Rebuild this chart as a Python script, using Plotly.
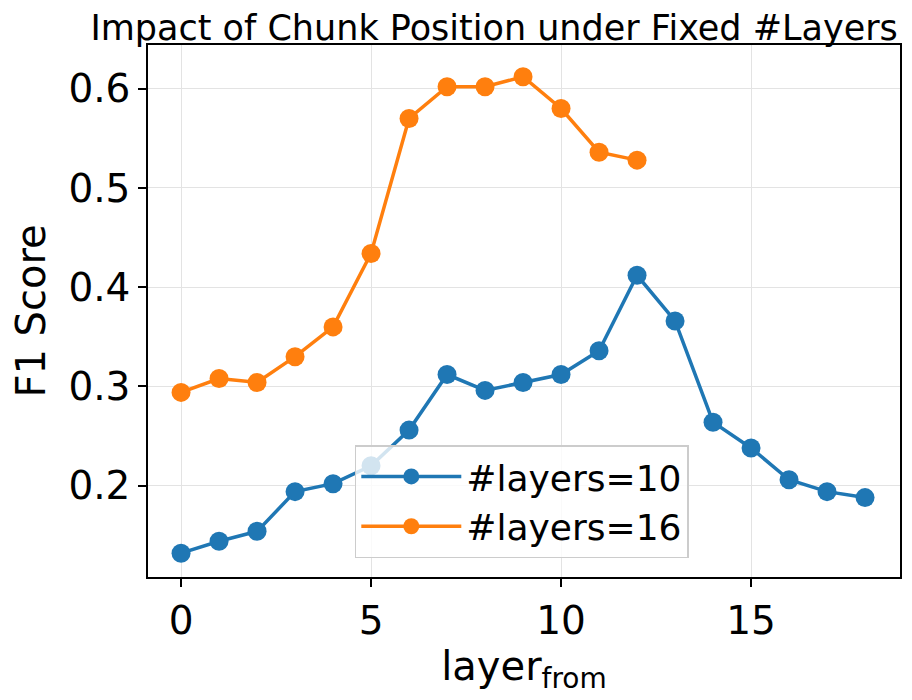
import plotly.graph_objects as go

x10 = list(range(19))
f1_10 = [0.132, 0.144, 0.154, 0.194, 0.202, 0.220, 0.256, 0.312, 0.296, 0.304,
         0.312, 0.336, 0.412, 0.366, 0.264, 0.238, 0.206, 0.194, 0.188]
x16 = list(range(13))
f1_16 = [0.294, 0.308, 0.304, 0.330, 0.360, 0.434, 0.570, 0.602, 0.602, 0.612,
         0.580, 0.536, 0.528]

x_ticks = [0, 5, 10, 15]
y_ticks = [0.2, 0.3, 0.4, 0.5, 0.6]

fig = go.Figure()
fig.add_trace(go.Scatter(x=x10, y=f1_10, mode="lines+markers", name="#layers=10",
                         line=dict(color="#1f77b4", width=3.5),
                         marker=dict(size=19, color="#1f77b4")))
fig.add_trace(go.Scatter(x=x16, y=f1_16, mode="lines+markers", name="#layers=16",
                         line=dict(color="#ff7f0e", width=3.5),
                         marker=dict(size=19, color="#ff7f0e")))

axis_common = dict(showline=True, linecolor="black", linewidth=1.5, mirror=True,
                   ticks="outside", ticklen=8, tickwidth=1.5, tickcolor="black",
                   showgrid=True, gridcolor="#e3e3e3", gridwidth=1.2, zeroline=False,
                   tickfont=dict(size=39, color="black"), automargin=False)

fig.update_layout(
    width=912, height=700,
    paper_bgcolor="white", plot_bgcolor="white",
    font=dict(family="DejaVu Sans", color="black"),
    margin=dict(l=140, r=20, t=37, b=131),
    title=dict(text="Impact of Chunk Position under Fixed #Layers",
               x=0.533, xanchor="center", y=0.99, yanchor="top",
               font=dict(size=35, family="DejaVu Sans")),
    xaxis=dict(range=[-0.87, 18.92], tickvals=x_ticks,
               title=dict(text="layer<sub>from</sub>", font=dict(size=40), standoff=4),
               **axis_common),
    yaxis=dict(range=[0.108, 0.644], tickvals=y_ticks, tickformat=".1f",
               title=dict(text="F1 Score", font=dict(size=40), standoff=12),
               **axis_common),
    legend=dict(x=0.275, y=0.248, xanchor="left", yanchor="top",
                bgcolor="rgba(255,255,255,0.8)", bordercolor="#cccccc", borderwidth=1.5,
                font=dict(size=36), itemwidth=100),
    showlegend=True,
)

fig.write_html("out.html")
